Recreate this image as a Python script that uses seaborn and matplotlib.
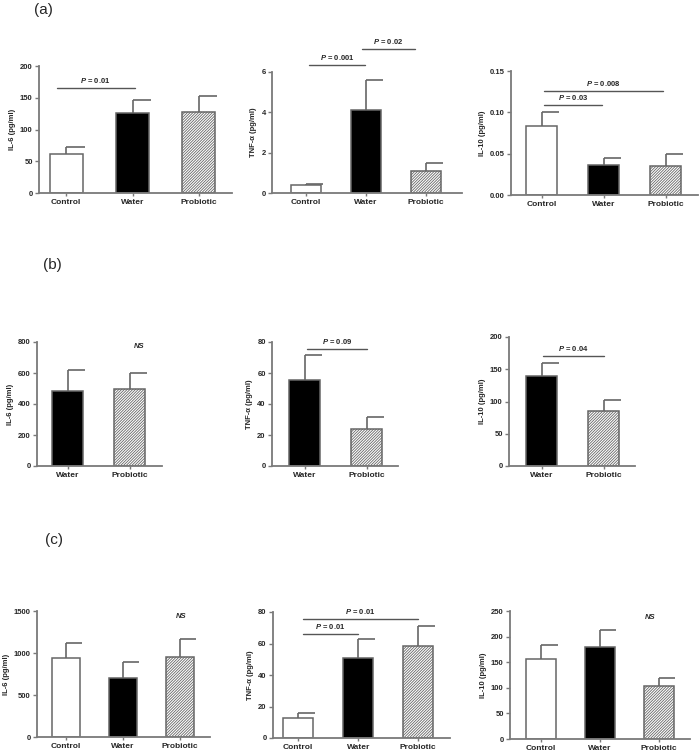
import numpy as np
import matplotlib
matplotlib.use("Agg")
import matplotlib.pyplot as plt
import seaborn as sns

# ---- data ----
groups3 = ["Control", "Water", "Probiotic"]
groups2 = ["Water", "Probiotic"]

a_il6_mean = [62, 126, 127]
a_il6_upper = [72, 146, 153]
a_tnf_mean = [0.38, 4.1, 1.1]
a_tnf_upper = [0.45, 5.6, 1.5]
a_il10_mean = [0.084, 0.036, 0.035]
a_il10_upper = [0.101, 0.045, 0.050]

b_il6_mean = [483, 500]
b_il6_upper = [618, 597]
b_tnf_mean = [55.5, 24]
b_tnf_upper = [71.5, 31.5]
b_il10_mean = [140, 85]
b_il10_upper = [160, 103]

c_il6_mean = [945, 700, 948]
c_il6_upper = [1115, 890, 1165]
c_tnf_mean = [12.5, 50.5, 58.5]
c_tnf_upper = [16, 63, 71]
c_il10_mean = [157, 180, 103]
c_il10_upper = [184, 213, 120]

# significance bars: (x_start, x_end, y, p-value text)
a_il6_sig = [(-0.14, 1.03, 165.5, "0.01")]
a_tnf_sig = [(0.05, 0.98, 6.33, "0.001"), (0.93, 1.82, 7.14, "0.02")]
a_il10_sig = [(0.03, 0.97, 0.109, "0.03"), (0.03, 1.95, 0.126, "0.008")]
b_tnf_sig = [(0.03, 1.0, 75.5, "0.09")]
b_il10_sig = [(0.02, 1.0, 170.5, "0.04")]
c_tnf_sig = [(0.08, 1.0, 66, "0.01"), (0.08, 2.0, 75.4, "0.01")]

GROUP_STYLE = {
    "Control": ("white", None),
    "Water": ("black", None),
    "Probiotic": ("white", "////////////"),
}
EDGE = "#666666"
AXC = "#7a7a7a"

sns.set_theme(style="white")
plt.rcParams["font.family"] = ["Liberation Sans", "DejaVu Sans"]
plt.rcParams["hatch.linewidth"] = 0.6
plt.rcParams["hatch.color"] = "#555555"
plt.rcParams["mathtext.fontset"] = "custom"
plt.rcParams["mathtext.it"] = "Liberation Sans:italic:bold"
plt.rcParams["mathtext.rm"] = "Liberation Sans:bold"

W, H = 700, 752
fig = plt.figure(figsize=(7, 7.52), dpi=100)


def add_ax(left, right, top, bottom):
    return fig.add_axes([left / W, 1 - bottom / H, (right - left) / W, (bottom - top) / H])


def panel(ax, groups, means, uppers, ymax, yticks, ylabel, xlim, fmt="{:g}",
          sig=(), ns=None):
    colors = [GROUP_STYLE[g][0] for g in groups]
    sns.barplot(x=groups, y=means, hue=groups, palette=colors, width=0.5,
                edgecolor=EDGE, linewidth=1.1, legend=False, ax=ax)
    for patch, g in zip(ax.patches, groups):
        h = GROUP_STYLE[g][1]
        if h:
            patch.set_hatch(h)
    pos = np.arange(len(groups))
    means = np.asarray(means, float)
    uppers = np.asarray(uppers, float)
    ax.vlines(pos, means, uppers, color=EDGE, lw=1.2, zorder=1)
    ax.hlines(uppers, pos, pos + 0.28, color=EDGE, lw=1.2, zorder=1)
    for p in ax.patches:
        p.set_zorder(2)

    ax.set_ylim(0, ymax)
    ax.set_xlim(*xlim)
    ax.set_yticks(yticks)
    ax.set_yticklabels([fmt.format(t) for t in yticks])
    ax.set_xticks(pos)
    ax.set_xticklabels(groups)
    ax.set_ylabel(ylabel, fontsize=5.5, fontweight="bold", labelpad=3)
    ax.set_xlabel("")
    for lab in ax.get_yticklabels() + ax.get_xticklabels():
        lab.set_fontweight("bold")
    ax.tick_params(axis="y", labelsize=5.5, length=3, width=1.0, color=AXC,
                   direction="out", left=True, pad=1.5)
    ax.tick_params(axis="x", labelsize=6, length=2.5, width=1.0, color=AXC,
                   direction="out", bottom=True, pad=1.5)
    sns.despine(ax=ax)
    for side in ("left", "bottom"):
        ax.spines[side].set_color(AXC)
        ax.spines[side].set_linewidth(1.3)

    for x0, x1, y, p in sig:
        ax.plot([x0, x1], [y, y], color="#555555", lw=1.0, clip_on=False)
        ax.text((x0 + x1) / 2, y + ymax * 0.025, r"$\mathit{P}$ = " + p,
                ha="center", va="bottom", fontsize=5.5, fontweight="bold",
                clip_on=False)
    if ns is not None:
        ax.text(ns[0], ns[1], "NS", ha="center", va="center", fontsize=5.5,
                fontweight="bold", fontstyle="italic")


# row (a)
panel(add_ax(39, 232, 66, 193), groups3, a_il6_mean, a_il6_upper, 200,
      [0, 50, 100, 150, 200], "IL-6 (pg/ml)", (-0.41, 2.5), sig=a_il6_sig)
panel(add_ax(272, 462, 72, 193), groups3, a_tnf_mean, a_tnf_upper, 6,
      [0, 2, 4, 6], "TNF-α (pg/ml)", (-0.57, 2.6), sig=a_tnf_sig)
panel(add_ax(511, 698, 71, 195), groups3, a_il10_mean, a_il10_upper, 0.15,
      [0, 0.05, 0.10, 0.15], "IL-10 (pg/ml)", (-0.5, 2.52), fmt="{:.2f}",
      sig=a_il10_sig)

# row (b)
panel(add_ax(37, 162, 342, 466), groups2, b_il6_mean, b_il6_upper, 800,
      [0, 200, 400, 600, 800], "IL-6 (pg/ml)", (-0.5, 1.52), ns=(1.15, 770))
panel(add_ax(272, 398, 342, 466), groups2, b_tnf_mean, b_tnf_upper, 80,
      [0, 20, 40, 60, 80], "TNF-α (pg/ml)", (-0.53, 1.5), sig=b_tnf_sig)
panel(add_ax(509, 635, 337, 466), groups2, b_il10_mean, b_il10_upper, 200,
      [0, 50, 100, 150, 200], "IL-10 (pg/ml)", (-0.53, 1.5), sig=b_il10_sig)

# row (c)
panel(add_ax(37, 210, 611, 737), groups3, c_il6_mean, c_il6_upper, 1500,
      [0, 500, 1000, 1500], "IL-6 (pg/ml)", (-0.51, 2.53), ns=(2.02, 1430))
panel(add_ax(273, 450, 612, 738), groups3, c_tnf_mean, c_tnf_upper, 80,
      [0, 20, 40, 60, 80], "TNF-α (pg/ml)", (-0.42, 2.53), sig=c_tnf_sig)
panel(add_ax(510, 690, 611, 739), groups3, c_il10_mean, c_il10_upper, 250,
      [0, 50, 100, 150, 200, 250], "IL-10 (pg/ml)", (-0.53, 2.53),
      ns=(1.85, 238))

# panel letters
for lab, x, y in [("(a)", 43, 10), ("(b)", 52, 265), ("(c)", 54, 540)]:
    fig.text(x / W, 1 - y / H, lab, ha="center", va="center", fontsize=11)

fig.savefig("out.png", dpi=100)
